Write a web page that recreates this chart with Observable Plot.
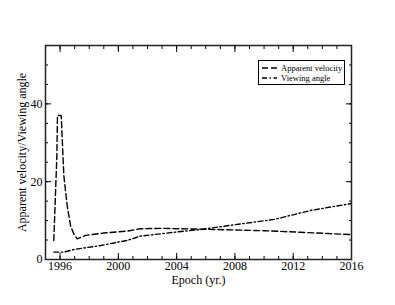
<!DOCTYPE html>
<html><head><meta charset="utf-8">
<script src="https://cdn.jsdelivr.net/npm/d3@7"></script>
<script src="https://cdn.jsdelivr.net/npm/@observablehq/plot@0.6"></script>
<style>
body{margin:0;background:#fff;}
#wrap{position:relative;width:395px;height:305px;}
#legend{position:absolute;left:258px;top:60px;width:87px;height:25px;border:1px solid #000;box-sizing:border-box;background:#fff;font-family:"Liberation Serif",serif;font-size:8.5px;color:#000;padding-top:2px;}
#legend .row{display:flex;align-items:center;height:10px;}
#legend svg{margin-left:3px;margin-right:4px;}
</style></head><body><div id="wrap"></div>
<script>
const seriesNames = ["Apparent velocity", "Viewing angle"];
const velocityYears = [1995.57, 1995.78, 1995.82, 1996.08, 1996.2, 1996.26, 1996.49, 1996.72, 1996.95, 1997.18, 1997.75, 1999.0, 2000.6, 2001.5, 2003.0, 2005.65, 2008.0, 2010.0, 2012.5, 2016.0];
const velocity      = [4.9, 26.7, 37.0, 37.0, 26.5, 21.5, 13.8, 8.7, 6.5, 5.3, 6.2, 6.8, 7.3, 7.9, 8.0, 7.8, 7.6, 7.4, 7.0, 6.4];
const angleYears = [1995.57, 1996.26, 1997.0, 1998.8, 2000.6, 2001.5, 2004.3, 2005.65, 2007.9, 2010.7, 2013.2, 2016.0];
const angle      = [1.9, 1.9, 2.6, 3.6, 4.9, 6.0, 7.2, 7.7, 8.9, 10.3, 12.6, 14.4];
const xMajor = [1996, 2000, 2004, 2008, 2012, 2016];
const xMinor = d3.range(1995, 2017);
const yMajor = [0, 20, 40];
const yMinor = d3.range(0, 56, 5);

const velData = velocityYears.map((x, i) => ({x, y: velocity[i]}));
const angData = angleYears.map((x, i) => ({x, y: angle[i]}));
const blank = () => "";

const plot = Plot.plot({
  width: 395, height: 305,
  marginLeft: 45, marginRight: 44, marginTop: 45, marginBottom: 46,
  style: {fontFamily: "'Liberation Serif', serif", fontSize: "12px", background: "white", color: "black"},
  x: {domain: [1995, 2016]},
  y: {domain: [0, 55]},
  marks: [
    Plot.line(velData, {x: "x", y: "y", stroke: "black", strokeWidth: 1.4, strokeDasharray: "6,3"}),
    Plot.line(angData, {x: "x", y: "y", stroke: "black", strokeWidth: 1.4, strokeDasharray: "5,2.5,1.5,2.5"}),
    // inward ticks, bottom
    Plot.axisX({anchor: "bottom", ticks: xMajor, tickSize: 6, dy: -6, tickFormat: blank, label: null}),
    Plot.axisX({anchor: "bottom", ticks: xMinor, tickSize: 3, dy: -3, tickFormat: blank, label: null}),
    // inward ticks, top
    Plot.axisX({anchor: "top", ticks: xMajor, tickSize: 6, dy: 6, tickFormat: blank, label: null}),
    Plot.axisX({anchor: "top", ticks: xMinor, tickSize: 3, dy: 3, tickFormat: blank, label: null}),
    // inward ticks, left / right
    Plot.axisY({anchor: "left", ticks: yMajor, tickSize: 6, dx: 6, tickFormat: blank, label: null}),
    Plot.axisY({anchor: "left", ticks: yMinor, tickSize: 3, dx: 3, tickFormat: blank, label: null}),
    Plot.axisY({anchor: "right", ticks: yMajor, tickSize: 6, dx: -6, tickFormat: blank, label: null}),
    Plot.axisY({anchor: "right", ticks: yMinor, tickSize: 3, dx: -3, tickFormat: blank, label: null}),
    // labels
    Plot.axisX({anchor: "bottom", ticks: xMajor, tickSize: 0, tickPadding: 2, tickFormat: d => String(d),
      label: "Epoch (yr.)", labelAnchor: "center", labelArrow: "none", labelOffset: 24, fontSize: 12}),
    Plot.axisY({anchor: "left", ticks: yMajor, tickSize: 0, tickPadding: 3, tickFormat: d => String(d),
      label: "Apparent velocity/Viewing angle", labelAnchor: "center", labelArrow: "none", labelOffset: 28, fontSize: 12}),
    Plot.frame({stroke: "#222", strokeWidth: 1.5})
  ]
});
const wrap = document.getElementById("wrap");
wrap.appendChild(plot);

const legend = document.createElement("div");
legend.id = "legend";
const dashes = ["6,3", "5,2.5,1.5,2.5"];
seriesNames.forEach((name, i) => {
  const row = document.createElement("div");
  row.className = "row";
  row.innerHTML = `<svg width="15" height="6"><line x1="0" y1="3" x2="15" y2="3" stroke="black" stroke-width="1.3" stroke-dasharray="${dashes[i]}"/></svg><span>${name}</span>`;
  legend.appendChild(row);
});
wrap.appendChild(legend);
</script>
</body></html>
